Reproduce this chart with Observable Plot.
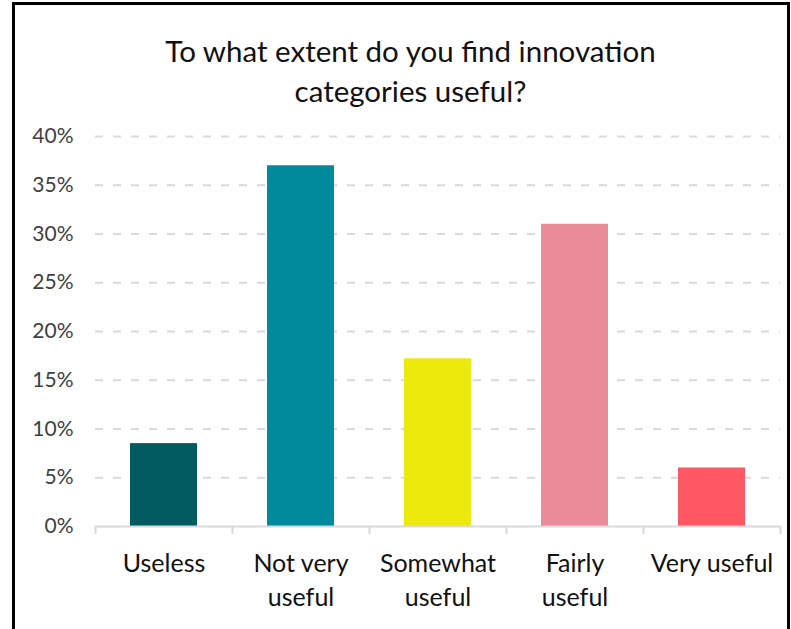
<!DOCTYPE html>
<html>
<head>
<meta charset="utf-8">
<script src="https://cdn.jsdelivr.net/npm/d3@7"></script>
<script src="https://cdn.jsdelivr.net/npm/@observablehq/plot@0.6"></script>
<style>
  html, body { margin: 0; padding: 0; background: #fff; }
  #wrap { position: relative; width: 791px; height: 629px; overflow: hidden; font-family: Lato, "DejaVu Sans", sans-serif; }
  #frame { position: absolute; left: 12px; top: 2px; width: 772px; height: 700px; border: 3px solid #000; border-bottom: none; }
  #title { position: absolute; left: 0; top: 31px; width: 821px; text-align: center; font-size: 29.5px; line-height: 40px; color: #111; }
  #chart { position: absolute; left: 0; top: 110px; }
</style>
</head>
<body>
<div id="wrap">
  <div id="frame"></div>
  <div id="title">To what extent do you find innovation<br>categories useful?</div>
  <div id="chart"></div>
</div>
<script>
const categories = ["Useless", "Not very useful", "Somewhat useful", "Fairly useful", "Very useful"];
const tickLabels = ["Useless", "Not very\nuseful", "Somewhat\nuseful", "Fairly\nuseful", "Very useful"];
const values = [8.5, 37.0, 17.2, 31.0, 6.0];
const colors = ["#035b62", "#018a9b", "#ece90c", "#e98b98", "#fd5864"];
const yTicks = [0, 5, 10, 15, 20, 25, 30, 35, 40];

const data = categories.map((c, i) => ({category: c, value: values[i]}));
const labelOf = new Map(categories.map((c, i) => [c, tickLabels[i]]));

const chart = Plot.plot({
  width: 791,
  height: 519,
  marginLeft: 95,
  marginRight: 11,
  marginTop: 26,
  marginBottom: 103,
  style: {fontFamily: "Lato, 'DejaVu Sans', sans-serif", background: "transparent"},
  x: {domain: categories, paddingInner: 0.51, paddingOuter: 0.255},
  y: {domain: [0, 40]},
  color: {domain: categories, range: colors},
  marks: [
    Plot.ruleY(yTicks.filter(d => d > 0), {stroke: "#d9d9d9", strokeWidth: 2, strokeDasharray: "8,10"}),
    Plot.barY(data, {x: "category", y: "value", fill: "category"}),
    Plot.ruleY([0], {stroke: "#d9d9d9", strokeWidth: 2}),
    Plot.axisY(yTicks, {tickSize: 0, tickPadding: 22, tickFormat: d => d + "%", fontSize: 21, fill: "#404040", label: null}),
    Plot.axisX(categories, {tickSize: 8, dx: -68.5, tickFormat: () => "", stroke: "#d9d9d9", strokeWidth: 2, label: null}),
    Plot.axisX([categories[categories.length - 1]], {tickSize: 8, dx: 68.5, tickFormat: () => "", stroke: "#d9d9d9", strokeWidth: 2, label: null}),
    Plot.axisX(categories, {tickSize: 0, tickPadding: 21, tickFormat: d => labelOf.get(d), fontSize: 25, lineHeight: 1.36, fill: "#111", label: null})
  ]
});
document.getElementById("chart").appendChild(chart);
</script>
</body>
</html>
